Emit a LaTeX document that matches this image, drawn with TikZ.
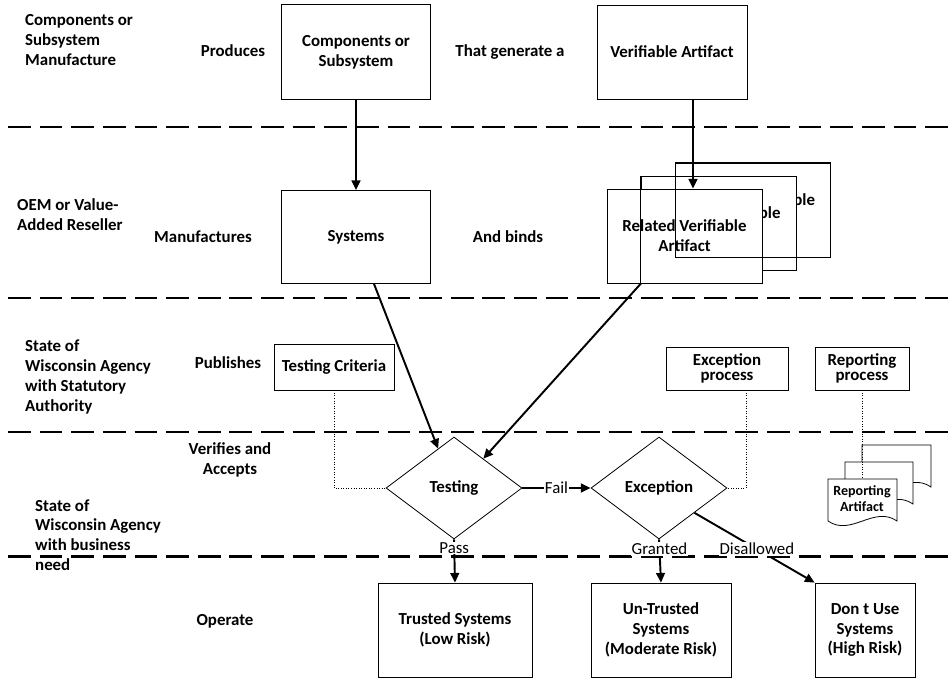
\documentclass[tikz,border=0pt]{standalone}
\usepackage{fontspec}
\setmainfont{Carlito}
\usetikzlibrary{arrows.meta,shapes.geometric}

\begin{document}
\begin{tikzpicture}[x=0.02cm, y=-0.02cm,
        box/.style={draw, line width=0.45pt, fill=white, align=center, inner sep=1pt,
            font=\bfseries\fontsize{9.6}{11.3}\selectfont},
        decision/.style={diamond, draw, line width=0.45pt, fill=white, inner sep=0pt,
            minimum width=2.72cm, minimum height=2.04cm, font=\bfseries\fontsize{9.6}{11.3}\selectfont},
        lane/.style={align=left, anchor=west, font=\bfseries\fontsize{9.6}{11.3}\selectfont},
        act/.style={align=center, font=\bfseries\fontsize{9.6}{11.3}\selectfont},
        divider/.style={line width=1.7pt, dash pattern=on 13pt off 5pt},
        arr/.style={line width=1.1pt, -{Triangle[length=5.5pt,width=5pt]}},
        link/.style={line width=0.45pt, densely dotted},
        doc/.style={draw, line width=0.45pt, fill=white},
        lbl/.style={fill=white, inner sep=0.5pt, font=\fontsize{9.6}{11}\selectfont}]
    \path[use as bounding box, fill=white] (0,0) rectangle (949,679);

    % Lane dividers
    \draw[divider] (8,127) -- (949,127);
    \draw[divider] (8,298) -- (949,298);
    \draw[divider] (8,432) -- (949,432);
    \draw[divider] (8,556) -- (949,556);

    % Lane and action texts
    \node[lane] (mfr) at (19,40) {Components or\\Subsystem\\Manufacture};
    \node[lane] (oem) at (11,215) {OEM or Value-\\Added Reseller};
    \node[lane] (auth) at (19,377) {State of\\Wisconsin Agency\\with Statutory\\Authority};
    \node[lane] (need) at (29,535) {State of\\Wisconsin Agency\\with business\\need};
    \node[act] (produces) at (233,51) {Produces};
    \node[act] (manufactures) at (203,237) {Manufactures};
    \node[act] (publishes) at (228,363) {Publishes};
    \node[act] (verifies) at (230,460) {Verifies and\\Accepts};
    \node[act] (operate) at (225,621) {Operate};
    \node[act] (generate) at (510,52) {That generate a};
    \node[act] (binds) at (508,237) {And binds};

    % Nodes
    \node[box, minimum width=2.98cm, minimum height=1.9cm] (comp) at (356,52) {Components or\\Subsystem};
    \node[box, minimum width=3cm, minimum height=1.88cm] (vart) at (672,52) {Verifiable Artifact};
    \node[box, minimum width=2.98cm, minimum height=1.86cm] (sys) at (356,237) {Systems};
    \node[box, minimum width=3.1cm, minimum height=1.88cm] (artC) at (753,210) {Related Verifiable\\Artifact};
    \node[box, minimum width=3.1cm, minimum height=1.88cm] (artB) at (718.5,223) {Related Verifiable\\Artifact};
    \node[box, minimum width=3.1cm, minimum height=1.88cm] (artA) at (684.5,236) {Related Verifiable\\Artifact};
    \draw[line width=0.45pt] (artC.north west) rectangle (artC.south east);
    \draw[line width=0.45pt] (artB.north west) -- (artB.west |- artA.south);
    \node[box, minimum width=2.4cm, minimum height=0.92cm] (crit) at (334,367) {Testing Criteria};
    \node[box, minimum width=2.44cm, minimum height=0.86cm, font=\bfseries\fontsize{9.6}{8.5}\selectfont] (excproc) at (727,368.5) {Exception\\process};
    \node[box, minimum width=1.88cm, minimum height=0.86cm, font=\bfseries\fontsize{9.6}{8.5}\selectfont] (repproc) at (862,368.5) {Reporting\\process};
    \node[decision] (test) at (454,488) {Testing};
    \node[decision] (exc) at (659,488) {Exception};
    \node[box, minimum width=3.08cm, minimum height=1.88cm] (trst) at (455,630) {Trusted Systems\\(Low Risk)};
    \node[box, minimum width=2.8cm, minimum height=1.88cm] (untr) at (661,630) {Un-Trusted\\Systems\\(Moderate Risk)};
    \node[box, minimum width=2cm, minimum height=1.88cm] (dont) at (865,630) {Don t Use\\Systems\\(High Risk)};

    % Reporting artifact stack
    \draw[doc] (862,445) -- (931,445) -- (931,487) .. controls (908,471) and (885,503) .. (862,487) -- cycle;
    \draw[doc] (845,462) -- (913,462) -- (913,504) .. controls (890,488) and (868,520) .. (845,504) -- cycle;
    \draw[doc] (828,479) -- (897,479) -- (897,521) .. controls (874,505) and (851,537) .. (828,521) -- cycle;
    \node[align=center, font=\bfseries\fontsize{8}{9}\selectfont] (repart) at (862,499) {Reporting\\Artifact};
    \coordinate (repin) at (862,479);

    % Edges
    \draw[arr] (comp.south) -- (sys.north);
    \draw[arr] ([xshift=0.42cm]vart.south) -- ([xshift=0.17cm]artA.north);
    \draw[arr] ([xshift=0.36cm]sys.south) -- (test.112);
    \draw[arr] ([xshift=-0.87cm]artA.south) -- (test.45);
    \draw[arr] (test.east) -- node[lbl] {Fail} (exc.west);
    \draw[arr] (test.south) -- node[lbl, pos=0.2] {Pass} (trst.north);
    \draw[arr] (exc.south) -- node[lbl, pos=0.22] {Granted} (untr.north);
    \draw[arr] (exc.-35) -- node[lbl, pos=0.52] {Disallowed} (dont.north west);
    \draw[link] (crit.south) |- (test.west);
    \draw[link] ([xshift=0.38cm]excproc.south) |- (exc.east);
    \draw[link] (repproc.south) -- (repin);
\end{tikzpicture}
\end{document}
